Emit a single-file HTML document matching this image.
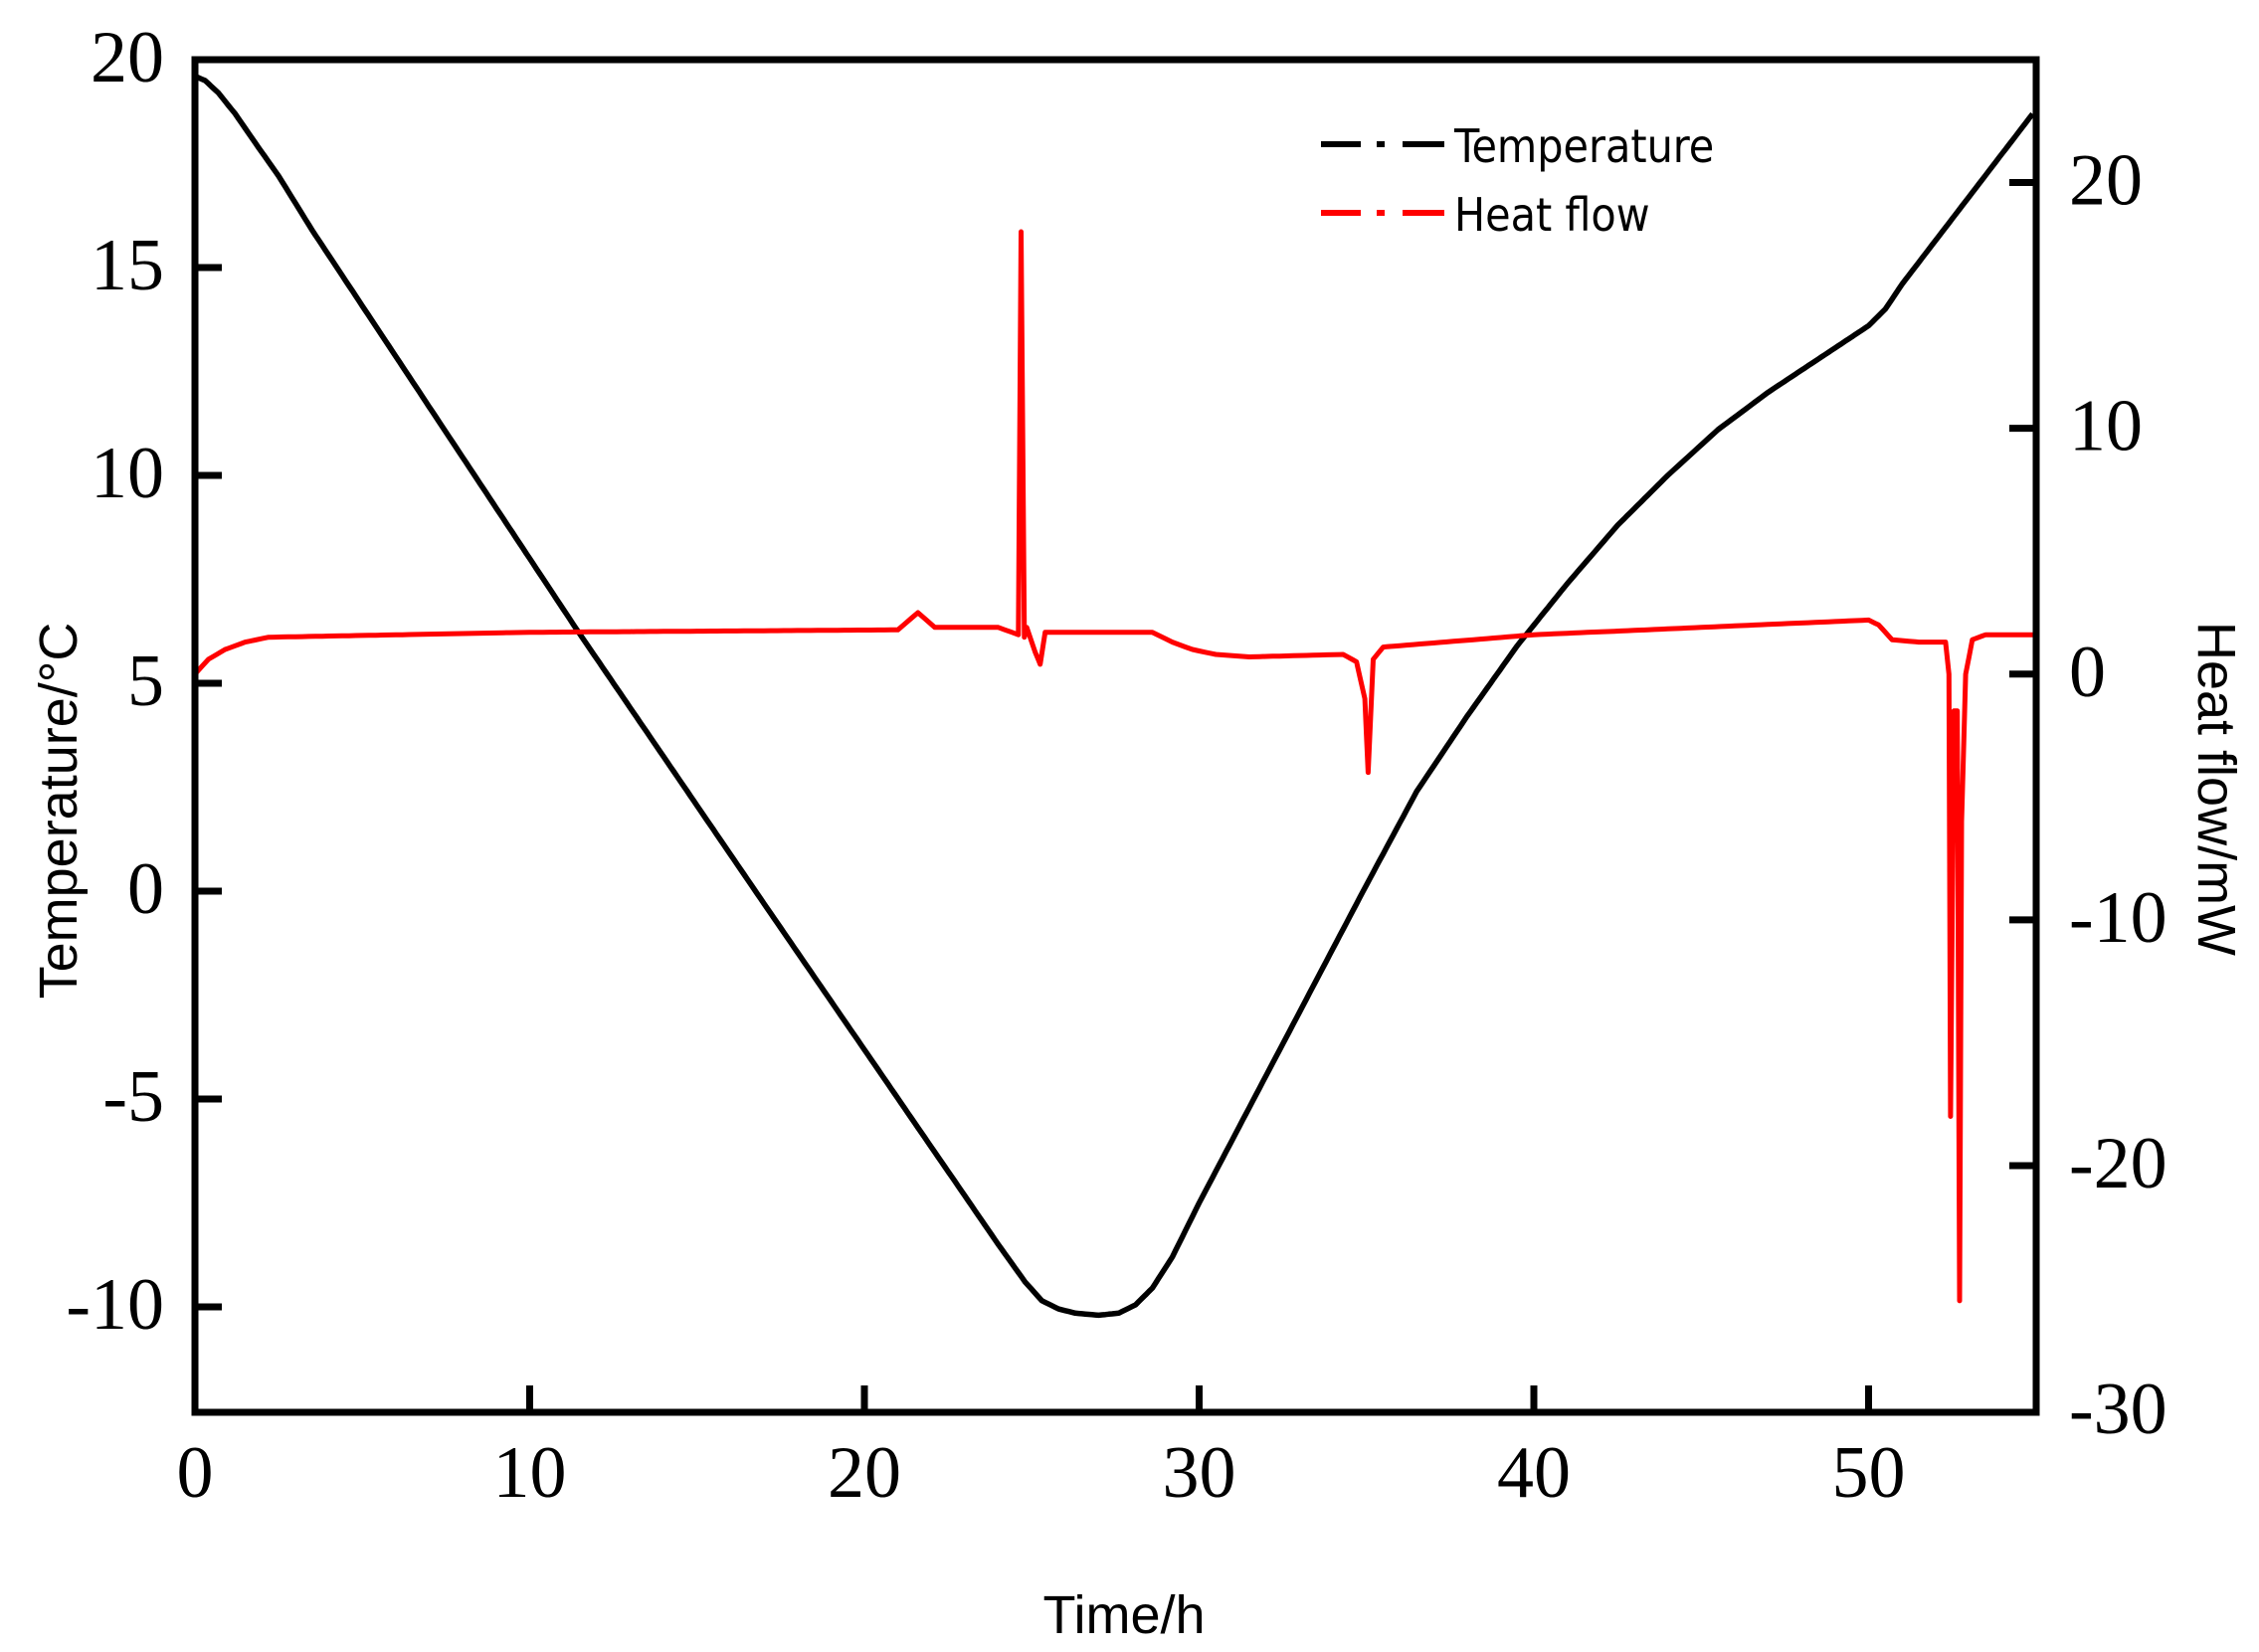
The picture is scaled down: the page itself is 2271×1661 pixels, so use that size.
<!DOCTYPE html>
<html><head><meta charset="utf-8"><style>
html,body{margin:0;padding:0;background:#fff;}
svg{display:block;}
.n{font-family:"Liberation Serif",serif;font-size:74px;fill:#000;}
.s{font-family:"Liberation Sans",sans-serif;fill:#000;}
</style></head><body>
<svg id="c" width="2271" height="1661" viewBox="0 0 2271 1661" xmlns="http://www.w3.org/2000/svg">
<rect width="2271" height="1661" fill="#fff"/>
<g id="data"></g>
<rect x="196" y="60" width="1851" height="1360" fill="none" stroke="#000" stroke-width="7"/>
<g id="ticks" stroke="#000" stroke-width="7"></g>
<g id="labels"></g>
<text class="s" font-size="54" transform="translate(77,815) rotate(-90)" text-anchor="middle">Temperature/°C</text>
<text class="s" font-size="54" transform="translate(2210,793) rotate(90)" text-anchor="middle">Heat flow/mW</text>
<text class="s" font-size="54" x="1130" y="1642" text-anchor="middle">Time/h</text>
<g>
<line x1="1328" y1="145" x2="1368" y2="145" stroke="#000" stroke-width="6"/>
<line x1="1384" y1="145" x2="1392" y2="145" stroke="#000" stroke-width="6"/>
<line x1="1410" y1="145" x2="1452" y2="145" stroke="#000" stroke-width="6"/>
<line x1="1328" y1="214" x2="1368" y2="214" stroke="#f00" stroke-width="6"/>
<line x1="1384" y1="214" x2="1392" y2="214" stroke="#f00" stroke-width="6"/>
<line x1="1410" y1="214" x2="1452" y2="214" stroke="#f00" stroke-width="6"/>
<text class="s" font-size="46" x="1462" y="163" style="font-family:'DejaVu Sans Condensed','Liberation Sans',sans-serif">Temperature</text>
<text class="s" font-size="46" x="1462" y="232" style="font-family:'DejaVu Sans Condensed','Liberation Sans',sans-serif">Heat flow</text>
</g>
</svg>
<script>
var X=function(t){return 196+t*33.65;};
var YL=function(T){return 60+(20-T)*41.8;};
var YR=function(H){return 60+(25-H)*24.71;};
var NS="http://www.w3.org/2000/svg";
function el(p,n,a,txt){var e=document.createElementNS(NS,n);for(var k in a)e.setAttribute(k,a[k]);if(txt!=null)e.textContent=txt;document.getElementById(p).appendChild(e);}
for(var T=-10;T<=15;T+=5){el("ticks","line",{x1:196,x2:223,y1:YL(T),y2:YL(T)});}
for(var t=10;t<=50;t+=10){el("ticks","line",{x1:X(t),x2:X(t),y1:1420,y2:1393});}
for(var H=-20;H<=20;H+=10){el("ticks","line",{x1:2047,x2:2020,y1:YR(H),y2:YR(H)});}
for(var T=-10;T<=20;T+=5){el("labels","text",{"class":"n",x:165,y:YL(T)+22,"text-anchor":"end"},String(T));}
for(var t=0;t<=50;t+=10){el("labels","text",{"class":"n",x:X(t),y:1505,"text-anchor":"middle"},String(t));}
for(var H=-30;H<=20;H+=10){el("labels","text",{"class":"n",x:2080,y:YR(H)+22},String(H));}
function interp(pts,t){for(var i=0;i<pts.length-1;i++){if(t>=pts[i][0]&&t<=pts[i+1][0]){var a=pts[i],b=pts[i+1];var f=(t-a[0])/(b[0]-a[0]);return a[1]+(b[1]-a[1])*f;}}return pts[pts.length-1][1];}
var tp=[[0,19.6],[0.3,19.5],[0.7,19.2],[1.2,18.7],[1.8,18.0],[2.5,17.2],[3.5,15.9],[11.4,6.3],[17,-0.3],[24.0,-8.5],[24.8,-9.4],[25.3,-9.85],[25.8,-10.05],[26.3,-10.15],[27,-10.2],[27.6,-10.15],[28.1,-9.95],[28.6,-9.55],[29.2,-8.8],[30,-7.5],[34.9,0],[36.5,2.4],[38.0,4.2],[39.5,5.9],[41,7.4],[42.5,8.8],[44,10.0],[45.5,11.1],[47,12.0],[48.5,12.8],[50,13.6],[50.5,14.0],[51,14.6],[55,18.8]];
var d="";for(var t=0;t<=55;t+=0.1){var v=interp(tp,t);d+=(d?"L":"M")+X(t).toFixed(1)+" "+YL(v).toFixed(1);}
el("data","path",{d:d,fill:"none",stroke:"#000","stroke-width":5.5,"stroke-linejoin":"round"});
var hp=[[0,0],[0.4,0.6],[0.9,1.0],[1.5,1.3],[2.2,1.5],[10,1.7],[21,1.8],[21.6,2.5],[22.1,1.9],[24,1.9],[24.6,1.6],[24.68,18],[24.78,1.5],[24.85,1.9],[25.1,0.9],[25.25,0.4],[25.4,1.7],[28,1.7],[28.6,1.7],[29.2,1.3],[29.8,1.0],[30.5,0.8],[31.5,0.7],[34.3,0.8],[34.7,0.5],[34.95,-1],[35.05,-4],[35.2,0.6],[35.5,1.1],[40,1.6],[45,1.9],[50,2.2],[50.3,2.0],[50.7,1.4],[51.5,1.3],[52.3,1.3],[52.4,0],[52.45,-18],[52.55,-1.5],[52.65,-1.5],[52.72,-25.5],[52.78,-6],[52.9,0],[53.1,1.4],[53.5,1.6],[55,1.6]];
var d2="";var keys=[];for(var t=0;t<=55;t+=0.2)keys.push(t);hp.forEach(function(p){keys.push(p[0]);});keys.sort(function(a,b){return a-b;});
keys.forEach(function(t){var v=interp(hp,t);d2+=(d2?"L":"M")+X(t).toFixed(1)+" "+YR(v).toFixed(1);});
el("data","path",{d:d2,fill:"none",stroke:"#f00","stroke-width":5,"stroke-linejoin":"round"});
</script>
</body></html>
